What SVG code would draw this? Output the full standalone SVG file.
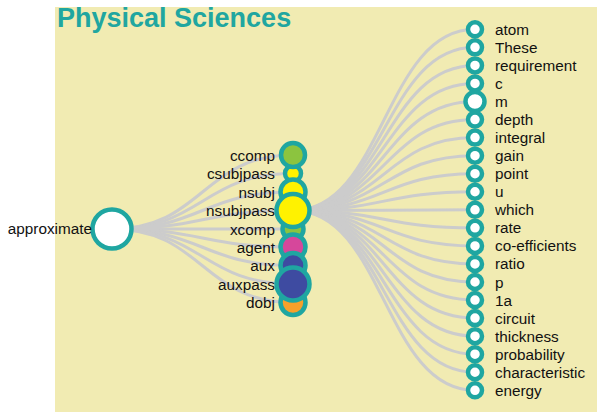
<svg xmlns="http://www.w3.org/2000/svg" width="597" height="412" viewBox="0 0 597 412">
  <style>
    .bg { fill: #f1ebb2; }
    .title { font-family: "Liberation Sans", Arial, sans-serif; font-size: 27px; font-weight: bold; fill: #20a6a0; }
    .link { fill: none; stroke: #cccccc; stroke-width: 3; }
    .node circle { stroke: #1fa6a1; stroke-width: 4.5; }
    .lbl { font-family: "Liberation Sans", Arial, sans-serif; font-size: 15.3px; fill: #111111; }
    .end { text-anchor: end; }
    .leaf { fill: #ffffff; }
  </style>

  <rect class="bg" x="55" y="7" width="542" height="405"/>
  <text class="title" x="57" y="27">Physical Sciences</text>

  <g id="connectors">
    <!-- root to relation nodes -->
    <path class="link" d="M112,229 C202.5,229 202.5,155 293,155"/>
    <path class="link" d="M112,229 C202.5,229 202.5,173.5 293,173.5"/>
    <path class="link" d="M112,229 C202.5,229 202.5,192 293,192"/>
    <path class="link" d="M112,229 C202.5,229 202.5,210.5 293,210.5"/>
    <path class="link" d="M112,229 C202.5,229 202.5,229 293,229"/>
    <path class="link" d="M112,229 C202.5,229 202.5,247 293,247"/>
    <path class="link" d="M112,229 C202.5,229 202.5,265.5 293,265.5"/>
    <path class="link" d="M112,229 C202.5,229 202.5,284 293,284"/>
    <path class="link" d="M112,229 C202.5,229 202.5,302.5 293,302.5"/>
    <!-- nsubjpass to word nodes -->
    <path class="link" d="M293,210.5 C384,210.5 384,29.3 475,29.3"/>
    <path class="link" d="M293,210.5 C384,210.5 384,47.35 475,47.35"/>
    <path class="link" d="M293,210.5 C384,210.5 384,65.4 475,65.4"/>
    <path class="link" d="M293,210.5 C384,210.5 384,83.45 475,83.45"/>
    <path class="link" d="M293,210.5 C384,210.5 384,101.5 475,101.5"/>
    <path class="link" d="M293,210.5 C384,210.5 384,119.55 475,119.55"/>
    <path class="link" d="M293,210.5 C384,210.5 384,137.6 475,137.6"/>
    <path class="link" d="M293,210.5 C384,210.5 384,155.65 475,155.65"/>
    <path class="link" d="M293,210.5 C384,210.5 384,173.7 475,173.7"/>
    <path class="link" d="M293,210.5 C384,210.5 384,191.75 475,191.75"/>
    <path class="link" d="M293,210.5 C384,210.5 384,209.8 475,209.8"/>
    <path class="link" d="M293,210.5 C384,210.5 384,227.85 475,227.85"/>
    <path class="link" d="M293,210.5 C384,210.5 384,245.9 475,245.9"/>
    <path class="link" d="M293,210.5 C384,210.5 384,263.95 475,263.95"/>
    <path class="link" d="M293,210.5 C384,210.5 384,282 475,282"/>
    <path class="link" d="M293,210.5 C384,210.5 384,300.05 475,300.05"/>
    <path class="link" d="M293,210.5 C384,210.5 384,318.1 475,318.1"/>
    <path class="link" d="M293,210.5 C384,210.5 384,336.15 475,336.15"/>
    <path class="link" d="M293,210.5 C384,210.5 384,354.2 475,354.2"/>
    <path class="link" d="M293,210.5 C384,210.5 384,372.25 475,372.25"/>
    <path class="link" d="M293,210.5 C384,210.5 384,390.3 475,390.3"/>
  </g>

  <!-- root -->
  <g id="node-approximate" class="node">
    <circle cx="112" cy="229" r="19.5" fill="#ffffff"/>
    <text class="lbl end" x="92" y="234">approximate</text>
  </g>

  <!-- relation nodes (smaller ones first so larger ones sit on top) -->
  <g id="node-csubjpass" class="node">
    <circle cx="293" cy="173.5" r="8" fill="#fff200"/>
    <text class="lbl end" x="275" y="179">csubjpass</text>
  </g>
  <g id="node-xcomp" class="node">
    <circle cx="293" cy="229" r="10.5" fill="#8cc43f"/>
    <text class="lbl end" x="275" y="234.5">xcomp</text>
  </g>
  <g id="node-ccomp" class="node">
    <circle cx="293" cy="155" r="12" fill="#8cc43f"/>
    <text class="lbl end" x="275" y="160.5">ccomp</text>
  </g>
  <g id="node-nsubj" class="node">
    <circle cx="293" cy="192" r="12.5" fill="#fff200"/>
    <text class="lbl end" x="275" y="197.5">nsubj</text>
  </g>
  <g id="node-agent" class="node">
    <circle cx="293" cy="247" r="12.5" fill="#d6479b"/>
    <text class="lbl end" x="275" y="252.5">agent</text>
  </g>
  <g id="node-aux" class="node">
    <circle cx="293" cy="265.5" r="12.5" fill="#3e4ba1"/>
    <text class="lbl end" x="275" y="271">aux</text>
  </g>
  <g id="node-dobj" class="node">
    <circle cx="293" cy="302.5" r="12.5" fill="#f7a02a"/>
    <text class="lbl end" x="275" y="308">dobj</text>
  </g>
  <g id="node-nsubjpass" class="node">
    <circle cx="293" cy="210.5" r="16.5" fill="#fff200"/>
    <text class="lbl end" x="275" y="216">nsubjpass</text>
  </g>
  <g id="node-auxpass" class="node">
    <circle cx="293" cy="284" r="16.5" fill="#3e4ba1"/>
    <text class="lbl end" x="275" y="289.5">auxpass</text>
  </g>

  <!-- word nodes -->
  <g id="node-atom" class="node"><circle class="leaf" cx="475" cy="29.3" r="7"/><text class="lbl" x="495" y="34.8">atom</text></g>
  <g id="node-These" class="node"><circle class="leaf" cx="475" cy="47.35" r="7"/><text class="lbl" x="495" y="52.85">These</text></g>
  <g id="node-requirement" class="node"><circle class="leaf" cx="475" cy="65.4" r="7"/><text class="lbl" x="495" y="70.9">requirement</text></g>
  <g id="node-c" class="node"><circle class="leaf" cx="475" cy="83.45" r="7"/><text class="lbl" x="495" y="88.95">c</text></g>
  <g id="node-m" class="node"><circle class="leaf" cx="475" cy="101.5" r="9.5"/><text class="lbl" x="495" y="107">m</text></g>
  <g id="node-depth" class="node"><circle class="leaf" cx="475" cy="119.55" r="7"/><text class="lbl" x="495" y="125.05">depth</text></g>
  <g id="node-integral" class="node"><circle class="leaf" cx="475" cy="137.6" r="7"/><text class="lbl" x="495" y="143.1">integral</text></g>
  <g id="node-gain" class="node"><circle class="leaf" cx="475" cy="155.65" r="7"/><text class="lbl" x="495" y="161.15">gain</text></g>
  <g id="node-point" class="node"><circle class="leaf" cx="475" cy="173.7" r="7"/><text class="lbl" x="495" y="179.2">point</text></g>
  <g id="node-u" class="node"><circle class="leaf" cx="475" cy="191.75" r="7"/><text class="lbl" x="495" y="197.25">u</text></g>
  <g id="node-which" class="node"><circle class="leaf" cx="475" cy="209.8" r="7"/><text class="lbl" x="495" y="215.3">which</text></g>
  <g id="node-rate" class="node"><circle class="leaf" cx="475" cy="227.85" r="7"/><text class="lbl" x="495" y="233.35">rate</text></g>
  <g id="node-co-efficients" class="node"><circle class="leaf" cx="475" cy="245.9" r="7"/><text class="lbl" x="495" y="251.4">co-efficients</text></g>
  <g id="node-ratio" class="node"><circle class="leaf" cx="475" cy="263.95" r="7"/><text class="lbl" x="495" y="269.45">ratio</text></g>
  <g id="node-p" class="node"><circle class="leaf" cx="475" cy="282" r="7"/><text class="lbl" x="495" y="287.5">p</text></g>
  <g id="node-1a" class="node"><circle class="leaf" cx="475" cy="300.05" r="7"/><text class="lbl" x="495" y="305.55">1a</text></g>
  <g id="node-circuit" class="node"><circle class="leaf" cx="475" cy="318.1" r="7"/><text class="lbl" x="495" y="323.6">circuit</text></g>
  <g id="node-thickness" class="node"><circle class="leaf" cx="475" cy="336.15" r="7"/><text class="lbl" x="495" y="341.65">thickness</text></g>
  <g id="node-probability" class="node"><circle class="leaf" cx="475" cy="354.2" r="7"/><text class="lbl" x="495" y="359.7">probability</text></g>
  <g id="node-characteristic" class="node"><circle class="leaf" cx="475" cy="372.25" r="7"/><text class="lbl" x="495" y="377.75">characteristic</text></g>
  <g id="node-energy" class="node"><circle class="leaf" cx="475" cy="390.3" r="7"/><text class="lbl" x="495" y="395.8">energy</text></g>
</svg>
